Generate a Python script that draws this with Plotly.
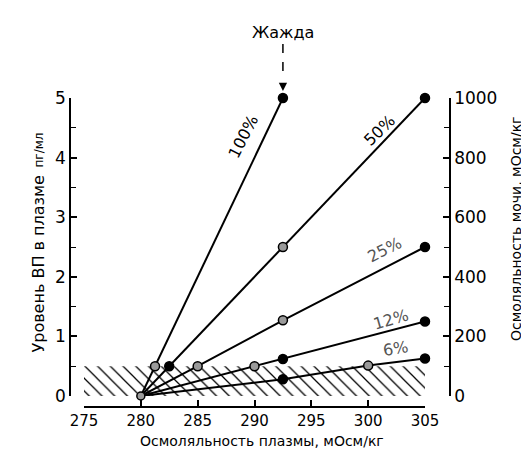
import plotly.graph_objects as go

# ---- data ----
series_names = ["100%", "50%", "25%", "12%", "6%"]
x100 = [280, 281.25, 292.5]
y100 = [0, 0.5, 5]
x50 = [280, 282.5, 292.5, 305]
y50 = [0, 0.5, 2.5, 5]
x25 = [280, 285, 292.5, 305]
y25 = [0, 0.5, 1.27, 2.5]
x12 = [280, 290, 292.5, 305]
y12 = [0, 0.5, 0.62, 1.25]
x6 = [280, 292.5, 300, 305]
y6 = [0, 0.28, 0.51, 0.63]
# which points are drawn as solid black dots (others grey), origin excluded
filled100 = [False, True]
filled50 = [True, False, True]
filled25 = [False, False, True]
filled12 = [False, True, True]
filled6 = [True, False, True]

normal_x = [275, 305]     # hatched normal range
normal_y = [0, 0.5]

x_ticks = [275, 280, 285, 290, 295, 300, 305]
left_ticks = [0, 1, 2, 3, 4, 5]
right_ticks = [0, 200, 400, 600, 800, 1000]
thirst_x = 292.5
thirst_label = "Жажда"

W, H = 529, 450
def px(v): return v / W
def py(v): return 1 - v / H

FONT = "DejaVu Sans"
fig = go.Figure()

# hatched normal region
fig.add_trace(go.Scatter(
    x=[normal_x[0], normal_x[1], normal_x[1], normal_x[0], normal_x[0]],
    y=[normal_y[0], normal_y[0], normal_y[1], normal_y[1], normal_y[0]],
    fill="toself", mode="none",
    fillcolor="rgba(0,0,0,0)",
    fillpattern=dict(shape="\\", size=9, solidity=0.14, fgcolor="black", bgcolor="rgba(0,0,0,0)"),
    hoverinfo="skip", showlegend=False))

xs = [x100, x50, x25, x12, x6]
ys = [y100, y50, y25, y12, y6]
fills = [filled100, filled50, filled25, filled12, filled6]
for name, xv, yv, fl in zip(series_names, xs, ys, fills):
    fig.add_trace(go.Scatter(x=xv, y=yv, mode="lines", name=name,
                             line=dict(color="black", width=2), showlegend=False, cliponaxis=False))
for name, xv, yv, fl in zip(series_names, xs, ys, fills):
    cols = ["black" if f else "#9a9a9a" for f in fl]
    fig.add_trace(go.Scatter(x=xv[1:], y=yv[1:], mode="markers", name=name,
                             marker=dict(size=9, color=cols, line=dict(color="black", width=1.5)),
                             showlegend=False, cliponaxis=False))
# common origin
fig.add_trace(go.Scatter(x=[x100[0]], y=[y100[0]], mode="markers",
                         marker=dict(size=8, color="#9a9a9a", line=dict(color="black", width=1.5)),
                         showlegend=False, cliponaxis=False))
# dummy trace for right axis
fig.add_trace(go.Scatter(x=[None], y=[None], yaxis="y2", showlegend=False))

axis_common = dict(showline=True, linecolor="black", linewidth=1.5, showgrid=False,
                   zeroline=False, ticks="inside", ticklen=6, tickwidth=1.5,
                   tickcolor="black", automargin=False)

fig.update_layout(
    width=W, height=H,
    margin=dict(l=0, r=0, t=0, b=0),
    paper_bgcolor="white", plot_bgcolor="white",
    template="none",
    showlegend=False,
    xaxis=dict(domain=[px(76), px(417)], range=[275, 305], anchor="free", position=py(399),
               tickvals=x_ticks, tickfont=dict(family=FONT, size=15, color="black"),
               **axis_common),
    yaxis=dict(domain=[py(388), py(90)], range=[0, 5], anchor="free", position=px(62),
               tickvals=left_ticks, tickfont=dict(family=FONT, size=17, color="black"),
               minor=dict(dtick=0.5, ticks="inside", ticklen=5, tickcolor="black", tickwidth=1.2, showgrid=False),
               **axis_common),
    yaxis2=dict(overlaying="y", side="right", range=[0, 1000], anchor="free", position=px(442),
                tickvals=right_ticks, tickfont=dict(family=FONT, size=17, color="black"),
                minor=dict(dtick=100, ticks="inside", ticklen=5, tickcolor="black", tickwidth=1.2, showgrid=False),
                **axis_common),
)

ann = []
# series labels along lines
lab_pos = [(289.0, 4.36, -63, "black"), (301.0, 4.45, -44, "black"),
           (301.5, 2.45, -27, "#555"), (302.0, 1.29, -16, "#555"), (302.4, 0.79, -9, "#555")]
for name, (lx, ly, ang, col) in zip(series_names, lab_pos):
    ann.append(dict(x=lx, y=ly, xref="x", yref="y", text=name, showarrow=False,
                    textangle=ang, font=dict(family=FONT, size=16, color=col)))
# thirst
ann.append(dict(x=thirst_x, y=py(24), xref="x", yref="paper", yanchor="middle", text=thirst_label,
                showarrow=False, font=dict(family=FONT, size=16, color="black")))
ann.append(dict(x=thirst_x, y=5, xref="x", yref="y", text="", showarrow=True,
                ax=0, ay=-16, arrowhead=2, arrowsize=1.1, arrowwidth=1.5, arrowcolor="black", standoff=7))
# axis titles
ann.append(dict(x=px(254), y=py(433), xref="paper", yref="paper", yanchor="middle",
                text="Осмоляльность плазмы, мОсм/кг", showarrow=False,
                font=dict(family=FONT, size=14, color="black")))
ann.append(dict(x=px(18), y=py(256), xref="paper", yref="paper", textangle=-90,
                text="Уровень ВП в плазме", showarrow=False,
                font=dict(family=FONT, size=16, color="black")))
ann.append(dict(x=px(21), y=py(123), xref="paper", yref="paper", textangle=-90,
                text="пг/мл", showarrow=False,
                font=dict(family=FONT, size=12, color="black")))
ann.append(dict(x=px(518), y=py(221), xref="paper", yref="paper", textangle=-90,
                text="Осмоляльность мочи, мОсм/кг", showarrow=False,
                font=dict(family=FONT, size=14, color="black")))
fig.update_layout(annotations=ann)

fig.add_shape(type="line", xref="x", yref="paper", x0=thirst_x, x1=thirst_x,
              y0=py(36), y1=py(72), line=dict(color="black", width=1.5, dash="dash"))

fig.write_html("out.html", config={"displayModeBar": False})
